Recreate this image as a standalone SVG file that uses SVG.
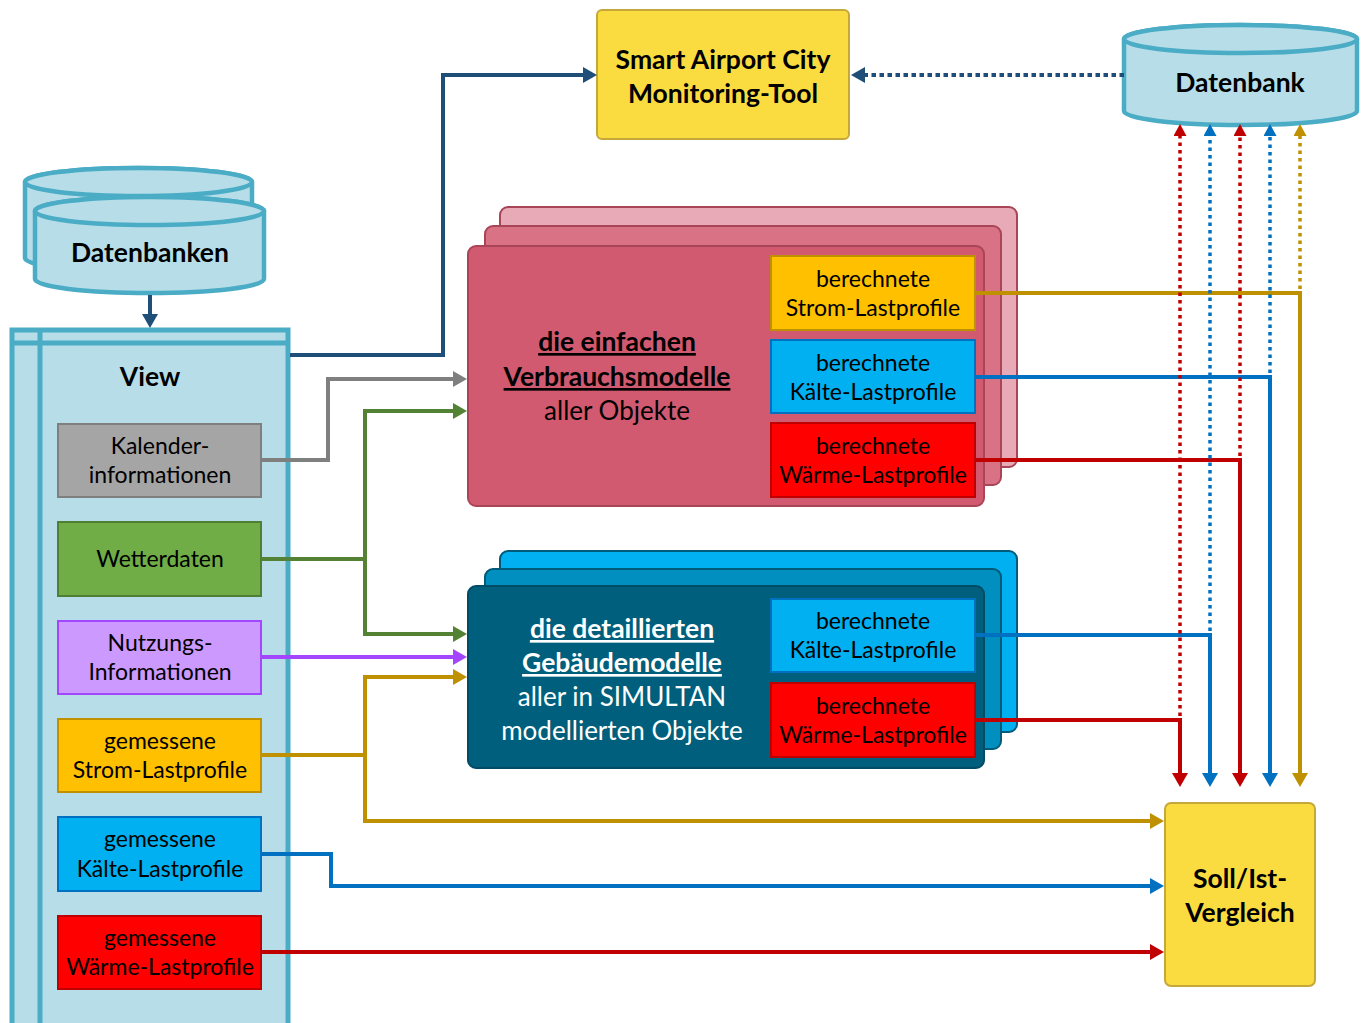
<svg xmlns="http://www.w3.org/2000/svg" width="1362" height="1023" viewBox="0 0 1362 1023">
<style>
text{font-family:Lato,"Open Sans","Liberation Sans",sans-serif;text-anchor:middle;fill:#000}
.t{font-size:23px}
.m{font-size:26px}
.b{font-size:26.5px;font-weight:bold}
.w{fill:#fff}
.u{text-decoration:underline}
.cyl{fill:#B7DEE8;stroke:#4BACC6;stroke-width:4.5}
.ln{fill:none;stroke-width:4}
.dot{fill:none;stroke-width:3.5;stroke-dasharray:3.5 4}
</style>
<defs>
<marker id="aN" markerUnits="userSpaceOnUse" viewBox="0 0 14 16" markerWidth="14" markerHeight="16" refX="6" refY="8" orient="auto"><path d="M0,0L14,8L0,16Z" fill="#1F4E79"/></marker>
<marker id="aG" markerUnits="userSpaceOnUse" viewBox="0 0 14 16" markerWidth="14" markerHeight="16" refX="6" refY="8" orient="auto"><path d="M0,0L14,8L0,16Z" fill="#7F7F7F"/></marker>
<marker id="aGr" markerUnits="userSpaceOnUse" viewBox="0 0 14 16" markerWidth="14" markerHeight="16" refX="6" refY="8" orient="auto"><path d="M0,0L14,8L0,16Z" fill="#548235"/></marker>
<marker id="aP" markerUnits="userSpaceOnUse" viewBox="0 0 14 16" markerWidth="14" markerHeight="16" refX="6" refY="8" orient="auto"><path d="M0,0L14,8L0,16Z" fill="#A347FF"/></marker>
<marker id="aY" markerUnits="userSpaceOnUse" viewBox="0 0 14 16" markerWidth="14" markerHeight="16" refX="6" refY="8" orient="auto"><path d="M0,0L14,8L0,16Z" fill="#BF9000"/></marker>
<marker id="aB" markerUnits="userSpaceOnUse" viewBox="0 0 14 16" markerWidth="14" markerHeight="16" refX="6" refY="8" orient="auto"><path d="M0,0L14,8L0,16Z" fill="#0070C0"/></marker>
<marker id="aR" markerUnits="userSpaceOnUse" viewBox="0 0 14 16" markerWidth="14" markerHeight="16" refX="6" refY="8" orient="auto"><path d="M0,0L14,8L0,16Z" fill="#C00000"/></marker>
<marker id="sY" markerUnits="userSpaceOnUse" viewBox="0 0 12 13" markerWidth="12" markerHeight="13" refX="4" refY="6.5" orient="auto"><path d="M0,0L12,6.5L0,13Z" fill="#BF9000"/></marker>
<marker id="sB" markerUnits="userSpaceOnUse" viewBox="0 0 12 13" markerWidth="12" markerHeight="13" refX="4" refY="6.5" orient="auto"><path d="M0,0L12,6.5L0,13Z" fill="#0070C0"/></marker>
<marker id="sR" markerUnits="userSpaceOnUse" viewBox="0 0 12 13" markerWidth="12" markerHeight="13" refX="4" refY="6.5" orient="auto"><path d="M0,0L12,6.5L0,13Z" fill="#C00000"/></marker>
</defs>
<rect width="1362" height="1023" fill="#fff"/>

<g id="datenbanken">
<path class="cyl" d="M25,182V258A113.5,14 0 0 0 252,258V182A113.5,14 0 0 0 25,182Z"/>
<ellipse class="cyl" cx="138.5" cy="182" rx="113.5" ry="14"/>
<path class="cyl" d="M35,211V279A114.5,14 0 0 0 264,279V211A114.5,14 0 0 0 35,211Z"/>
<ellipse class="cyl" cx="149.5" cy="211" rx="114.5" ry="14"/>
<text class="b" x="150" y="262">Datenbanken</text>
</g>

<g id="view">
<rect x="12" y="330" width="276" height="720" fill="#B7DEE8" stroke="#4BACC6" stroke-width="5"/>
<path d="M12,343H288M40,330V1050" stroke="#4BACC6" stroke-width="5" fill="none"/>
<text class="b" x="150" y="386">View</text>
</g>

<g id="kalender">
<rect x="58" y="424" width="203" height="73" fill="#A5A5A5" stroke="#7F7F7F" stroke-width="2"/>
<text class="t" x="160" y="454">Kalender-</text>
<text class="t" x="160" y="483">informationen</text>
</g>
<g id="wetter">
<rect x="58" y="522" width="203" height="74" fill="#70AD47" stroke="#507E32" stroke-width="2"/>
<text class="t" x="160" y="567">Wetterdaten</text>
</g>
<g id="nutzung">
<rect x="58" y="621" width="203" height="73" fill="#CC99FF" stroke="#A347FF" stroke-width="2"/>
<text class="t" x="160" y="651">Nutzungs-</text>
<text class="t" x="160" y="680">Informationen</text>
</g>
<g id="gem-strom">
<rect x="58" y="719" width="203" height="73" fill="#FFC000" stroke="#BF9000" stroke-width="2"/>
<text class="t" x="160" y="749">gemessene</text>
<text class="t" x="160" y="778">Strom-Lastprofile</text>
</g>
<g id="gem-kaelte">
<rect x="58" y="817" width="203" height="74" fill="#00B0F0" stroke="#0070C0" stroke-width="2"/>
<text class="t" x="160" y="847">gemessene</text>
<text class="t" x="160" y="877">Kälte-Lastprofile</text>
</g>
<g id="gem-waerme">
<rect x="58" y="916" width="203" height="73" fill="#FF0000" stroke="#C00000" stroke-width="2"/>
<text class="t" x="160" y="946">gemessene</text>
<text class="t" x="160" y="975">Wärme-Lastprofile</text>
</g>

<g id="monitoring">
<rect x="597" y="10" width="252" height="129" rx="5" fill="#FADC41" stroke="#C4A93A" stroke-width="2"/>
<text class="b" x="723" y="69">Smart Airport City</text>
<text class="b" x="723" y="103">Monitoring-Tool</text>
</g>

<g id="datenbank">
<path class="cyl" d="M1124,39V111A116.5,14 0 0 0 1357,111V39A116.5,14 0 0 0 1124,39Z"/>
<ellipse class="cyl" cx="1240.5" cy="39" rx="116.5" ry="14"/>
<text class="b" x="1240" y="92">Datenbank</text>
</g>

<g id="einfache-modelle">
<rect x="500" y="207" width="517" height="260" rx="8" fill="#E8AAB6" stroke="#A84556" stroke-width="2"/>
<rect x="485" y="226" width="516" height="259" rx="8" fill="#D97285" stroke="#A84556" stroke-width="2"/>
<rect x="468" y="246" width="516" height="260" rx="8" fill="#D25A70" stroke="#A84556" stroke-width="2"/>
<text class="b u" x="617" y="351">die einfachen</text>
<text class="b u" x="617" y="386">Verbrauchsmodelle</text>
<text class="m" x="617" y="420">aller Objekte</text>
<rect x="771" y="256" width="204" height="74" fill="#FFC000" stroke="#BF9000" stroke-width="2"/>
<text class="t" x="873" y="287">berechnete</text>
<text class="t" x="873" y="316">Strom-Lastprofile</text>
<rect x="771" y="340" width="204" height="73" fill="#00B0F0" stroke="#0070C0" stroke-width="2"/>
<text class="t" x="873" y="371">berechnete</text>
<text class="t" x="873" y="400">Kälte-Lastprofile</text>
<rect x="771" y="423" width="204" height="74" fill="#FF0000" stroke="#C00000" stroke-width="2"/>
<text class="t" x="873" y="454">berechnete</text>
<text class="t" x="873" y="483">Wärme-Lastprofile</text>
</g>

<g id="detail-modelle">
<rect x="500" y="551" width="517" height="181" rx="8" fill="#00B0F0" stroke="#005A78" stroke-width="2"/>
<rect x="485" y="569" width="516" height="180" rx="8" fill="#008FBF" stroke="#005A78" stroke-width="2"/>
<rect x="468" y="586" width="516" height="182" rx="8" fill="#005F7D" stroke="#004C66" stroke-width="2"/>
<text class="b u w" x="622" y="638">die detaillierten</text>
<text class="b u w" x="622" y="672">Gebäudemodelle</text>
<text class="m w" x="622" y="706">aller in SIMULTAN</text>
<text class="m w" x="622" y="740">modellierten Objekte</text>
<rect x="771" y="599" width="204" height="73" fill="#00B0F0" stroke="#0070C0" stroke-width="2"/>
<text class="t" x="873" y="629">berechnete</text>
<text class="t" x="873" y="658">Kälte-Lastprofile</text>
<rect x="771" y="683" width="204" height="74" fill="#FF0000" stroke="#C00000" stroke-width="2"/>
<text class="t" x="873" y="714">berechnete</text>
<text class="t" x="873" y="743">Wärme-Lastprofile</text>
</g>

<g id="soll-ist">
<rect x="1165" y="803" width="150" height="183" rx="6" fill="#FADC41" stroke="#C4A93A" stroke-width="2"/>
<text class="b" x="1240" y="888">Soll/Ist-</text>
<text class="b" x="1240" y="922">Vergleich</text>
</g>

<g id="connectors">
<path class="ln" stroke="#1F4E79" d="M150,295V320" marker-end="url(#aN)"/>
<path class="ln" stroke="#1F4E79" d="M290,355H443V75H589" marker-end="url(#aN)"/>
<path fill="none" stroke="#1F4E79" stroke-width="4" stroke-dasharray="4.5 3.5" d="M1124,75H859" marker-end="url(#aN)"/>

<path class="ln" stroke="#7F7F7F" d="M261,460H328V379H459" marker-end="url(#aG)"/>
<path class="ln" stroke="#548235" d="M261,559H365V411H459" marker-end="url(#aGr)"/>
<path class="ln" stroke="#548235" d="M365,559V634H459" marker-end="url(#aGr)"/>
<path class="ln" stroke="#A347FF" d="M261,657H459" marker-end="url(#aP)"/>
<path class="ln" stroke="#BF9000" d="M261,755H365V677H459" marker-end="url(#aY)"/>
<path class="ln" stroke="#BF9000" d="M365,755V821H1156" marker-end="url(#aY)"/>
<path class="ln" stroke="#0070C0" d="M261,854H331V886H1156" marker-end="url(#aB)"/>
<path class="ln" stroke="#C00000" d="M261,952H1156" marker-end="url(#aR)"/>

<path class="ln" stroke="#BF9000" d="M975,293H1300V779" marker-end="url(#aY)"/>
<path class="ln" stroke="#0070C0" d="M975,377H1270V779" marker-end="url(#aB)"/>
<path class="ln" stroke="#C00000" d="M975,460H1240V779" marker-end="url(#aR)"/>
<path class="ln" stroke="#0070C0" d="M975,635H1210V779" marker-end="url(#aB)"/>
<path class="ln" stroke="#C00000" d="M975,720H1180V779" marker-end="url(#aR)"/>

<path class="dot" stroke="#C00000" d="M1180,716V132" marker-end="url(#sR)"/>
<path class="dot" stroke="#0070C0" d="M1210,631V132" marker-end="url(#sB)"/>
<path class="dot" stroke="#C00000" d="M1240,456V132" marker-end="url(#sR)"/>
<path class="dot" stroke="#0070C0" d="M1270,373V132" marker-end="url(#sB)"/>
<path class="dot" stroke="#BF9000" d="M1300,289V132" marker-end="url(#sY)"/>
</g>
</svg>
